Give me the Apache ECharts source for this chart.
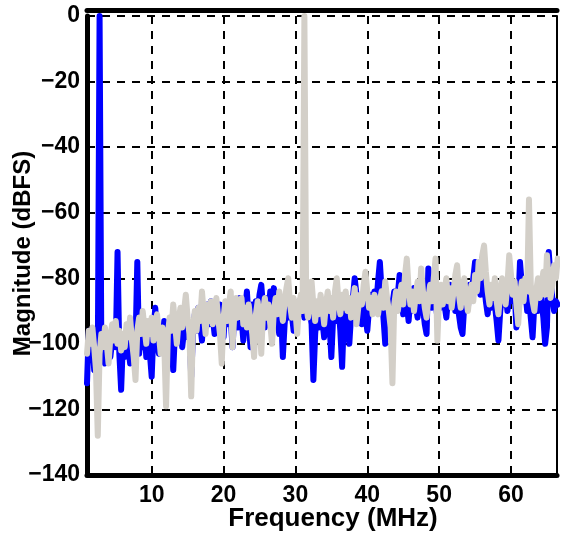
<!DOCTYPE html>
<html>
<head>
<meta charset="utf-8">
<script src="https://cdn.jsdelivr.net/npm/echarts@6/dist/echarts.min.js"></script>
<style>html,body{margin:0;padding:0;background:#fff;}#c{width:561px;height:539px;}</style>
</head>
<body>
<div id="c"></div>
<script>
// Frequency grid (MHz): start and step of the spectrum bins
var freqStart = 1.0;
var freqStep = 0.25;
// Blue trace (dBFS), one row = 5 MHz
var blueValues = [
-112,-96,-104,-99,-108,-101,-106,0,-104,-98,-106,-100,-97,-104,-99,-95,-101,-72,-103,-114,
-99,-104,-97,-101,-106,-96,-93,-100,-75,-103,-97,-101,-95,-104,-98,-103,-110,-96,-89,-99,
-103,-95,-100,-93,-98,-102,-94,-99,-108,-96,-92,-99,-94,-101,-96,-92,-98,-95,-110,-97,
-91,-96,-89,-94,-99,-90,-95,-88,-94,-87,-92,-97,-90,-95,-88,-93,-98,-89,-94,-87,
-92,-101,-91,-88,-95,-86,-92,-99,-90,-84,-93,-101,-88,-94,-87,-91,-85,-82,-89,-95,
-86,-91,-84,-90,-83,-88,-93,-97,-90,-104,-94,-88,-92,-86,-91,-96,-89,-93,-87,-91,
-86,-92,-88,-84,-90,-94,-111,-97,-90,-95,-88,-93,-98,-91,-87,-94,-104,-92,-88,-93,
-89,-96,-107,-92,-88,-94,-100,-91,-86,-80,-85,-92,-88,-94,-87,-91,-96,-89,-85,-90,
-84,-88,-81,-75,-84,-92,-100,-91,-87,-93,-88,-84,-90,-85,-79,-86,-91,-84,-88,-93,
-86,-90,-83,-88,-92,-85,-81,-89,-94,-97,-77,-85,-89,-83,-87,-92,-85,-89,-83,-88,
-92,-86,-82,-88,-84,-90,-86,-91,-95,-97,-88,-84,-89,-82,-86,-80,-75,-82,-78,-85,
-74,-81,-87,-91,-85,-89,-83,-88,-93,-99,-90,-85,-88,-84,-90,-86,-81,-87,-84,-95,
-89,-75,-82,-87,-84,-90,-86,-92,-98,-88,-84,-90,-82,-87,-92,-100,-95,-72,-80,-86,
-90,-87,-88
];
// Gray trace (dBFS), one row = 5 MHz
var grayValues = [
-103,-96,-100,-95,-101,-108,-128,-103,-97,-101,-95,-100,-106,-98,-94,-99,-93,-100,-96,-102,
-97,-101,-94,-98,-92,-99,-104,-111,-96,-92,-97,-90,-95,-100,-93,-97,-92,-99,-94,-91,
-97,-103,-95,-100,-119,-97,-92,-96,-88,-94,-100,-93,-89,-95,-90,-85,-92,-97,-116,-95,
-90,-96,-89,-93,-84,-91,-97,-88,-93,-87,-94,-89,-86,-92,-97,-106,-92,-87,-93,-88,
-84,-101,-91,-86,-92,-88,-86,-94,-89,-95,-88,-93,-97,-104,-91,-87,-93,-103,-90,-86,
-92,-88,-94,-100,-90,-86,-91,-84,-89,-93,-87,-83,-80,-88,-92,-86,-90,-97,-88,-85,
-90,0,-88,-92,-86,-81,-88,-93,-87,-91,-85,-89,-94,-88,-84,-90,-86,-92,-84,-80,
-87,-91,-85,-89,-84,-90,-86,-92,-88,-83,-94,-89,-85,-88,-82,-78,-84,-89,-86,-91,
-85,-88,-91,-87,-84,-89,-81,-86,-90,-95,-112,-88,-84,-90,-86,-82,-88,-79,-74,-83,
-88,-84,-90,-85,-81,-87,-77,-84,-89,-92,-86,-82,-87,-80,-74,-99,-86,-82,-88,-84,
-80,-87,-83,-89,-84,-79,-76,-85,-89,-83,-80,-86,-90,-85,-82,-87,-79,-84,-75,-80,
-73,-70,-78,-84,-88,-82,-86,-80,-87,-91,-84,-80,-85,-88,-82,-73,-79,-85,-81,-88,
-94,-85,-81,-87,-80,-84,-56,-82,-87,-90,-84,-80,-86,-82,-78,-85,-73,-80,-86,-82,
-76,-80,-74
];
// Axis settings
var xMin = 1, xMax = 66.4;
var yMin = -140, yMax = 0, yStep = 20;
var xTitle = 'Frequency (MHz)';
var yTitle = 'Magnitude (dBFS)';

function pairs(vals) {
  return vals.map(function (v, i) { return [freqStart + i * freqStep, v]; });
}

var font = 'Liberation Sans, Arial, Helvetica, sans-serif';
var chart = echarts.init(document.getElementById('c'), null, {renderer: 'canvas'});
chart.setOption({
  animation: false,
  backgroundColor: '#ffffff',
  grid: {left: 87, right: 4, top: 16, bottom: 64, containLabel: false, outerBoundsMode: 'none'},
  xAxis: [{
    type: 'value', min: xMin, max: xMax, splitNumber: 6,
    name: xTitle, nameLocation: 'middle', nameGap: 31, nameMoveOverlap: false,
    nameTextStyle: {fontFamily: font, fontWeight: 'bold', fontSize: 26, color: '#000', padding: [0, 0, 0, 22]},
    axisLine: {show: true, onZero: false, lineStyle: {color: '#000', width: 5}},
    axisTick: {show: true, inside: true, length: 5, lineStyle: {color: '#000', width: 2}},
    axisLabel: {
      fontFamily: font, fontWeight: 'bold', fontSize: 23, color: '#000', margin: 9,
      formatter: function (v) { return (Math.abs(v % 10) < 1e-9) ? String(v) : ''; }
    },
    splitLine: {show: true, lineStyle: {color: '#000', width: 2, type: [8, 7]}}
  }, {
    type: 'value', min: xMin, max: xMax, position: 'top', offset: 6,
    axisLine: {show: true, onZero: false, lineStyle: {color: '#000', width: 5}},
    axisTick: {show: false}, axisLabel: {show: false}, splitLine: {show: false}
  }],
  yAxis: [{
    type: 'value', min: yMin, max: yMax, interval: yStep,
    name: yTitle, nameLocation: 'middle', nameGap: 52, nameMoveOverlap: false,
    nameTextStyle: {fontFamily: font, fontWeight: 'bold', fontSize: 24, color: '#000', padding: [0, 16, 0, 0]},
    axisLine: {show: true, onZero: false, lineStyle: {color: '#000', width: 5}},
    axisTick: {show: true, inside: true, length: 5, lineStyle: {color: '#000', width: 2}},
    axisLabel: {
      fontFamily: font, fontWeight: 'bold', fontSize: 23, color: '#000', margin: 7,
      formatter: function (v) { return String(v).replace('-', '\u2212'); }
    },
    splitLine: {show: true, lineStyle: {color: '#000', width: 2, type: [8, 7]}}
  }, {
    type: 'value', min: yMin, max: yMax, interval: yStep, position: 'right',
    axisLine: {show: true, onZero: false, lineStyle: {color: '#000', width: 2}},
    axisTick: {show: true, inside: true, length: 4, lineStyle: {color: '#000', width: 2}},
    axisLabel: {show: false}, splitLine: {show: false}
  }],
  series: [{
    type: 'line', data: pairs(blueValues), showSymbol: false, clip: true,
    lineStyle: {color: '#0000ff', width: 6, join: 'round', cap: 'round'}
  }, {
    type: 'line', data: pairs(grayValues), showSymbol: false, clip: true,
    lineStyle: {color: '#d3cfc8', width: 6, join: 'round', cap: 'round'}
  }]
});
</script>
</body>
</html>
